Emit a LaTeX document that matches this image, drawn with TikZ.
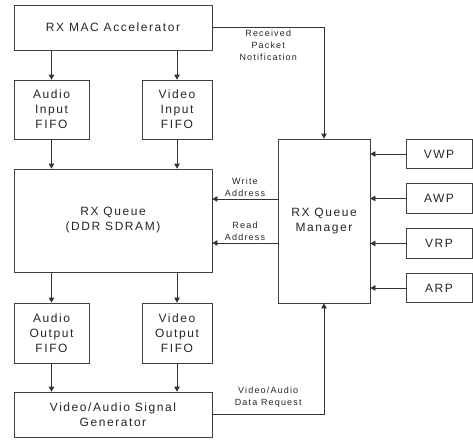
\documentclass[tikz,border=0pt]{standalone}
\usepackage{fontspec}
\setmainfont[LetterSpace=13]{Liberation Sans}
\usetikzlibrary{arrows.meta}

\begin{document}
\begin{tikzpicture}[x=1pt, y=-1pt,
    block/.style={draw=black!75, line width=0.8pt, fill=white, align=center, inner sep=0pt, font=\fontsize{12}{15}\selectfont, text=black!85},
    fifo/.style={block, minimum height=59pt},
    port/.style={block, minimum width=66pt, minimum height=29.5pt},
    arrow/.style={-{Triangle[length=5pt, width=5.5pt]}, draw=black!80, line width=0.8pt},
    sublabel/.style={font=\fontsize{9}{12}\selectfont, align=center, text=black!85, inner sep=2pt}
]
\useasboundingbox (0,0) rectangle (473,439);
% left column
\node[block, minimum width=198pt, minimum height=45pt] (mac) at (113,27.5) {RX MAC Accelerator};
\node[fifo, minimum width=75pt] (ain) at (51.5,109.5) {Audio\\Input\\FIFO};
\node[fifo, minimum width=70pt] (vin) at (177,109.5) {Video\\Input\\FIFO};
\node[block, minimum width=198pt, minimum height=103pt] (queue) at (113,220.5) {RX Queue\\(DDR SDRAM)};
\node[fifo, minimum width=75pt, minimum height=60pt] (aout) at (51.5,333) {Audio\\Output\\FIFO};
\node[fifo, minimum width=70pt, minimum height=60pt] (vout) at (177,333) {Video\\Output\\FIFO};
\node[block, minimum width=198pt, minimum height=45pt] (gen) at (113,414.5) {Video/Audio Signal\\Generator};
% queue manager and pointers
\node[block, minimum width=92pt, minimum height=164pt] (mgr) at (324,221) {RX Queue\\Manager};
\node[port] (vwp) at (439,154) {VWP};
\node[port] (awp) at (439,198.5) {AWP};
\node[port] (vrp) at (439,243.5) {VRP};
\node[port] (arp) at (439,288) {ARP};
% data path
\draw[arrow] (mac.south -| ain) -- (ain);
\draw[arrow] (mac.south -| vin) -- (vin);
\draw[arrow] (ain) -- (queue.north -| ain);
\draw[arrow] (vin) -- (queue.north -| vin);
\draw[arrow] (queue.south -| aout) -- (aout);
\draw[arrow] (queue.south -| vout) -- (vout);
\draw[arrow] (aout) -- (gen.north -| aout);
\draw[arrow] (vout) -- (gen.north -| vout);
% control path
\coordinate (wr) at (mgr.west |- 0,199);
\coordinate (rd) at (mgr.west |- 0,243);
\draw[arrow] (mac.east) -- node[below, sublabel] {Received\\Packet\\Notification} (mac.east -| mgr.north) -- (mgr.north);
\draw[arrow] (wr) -- node[above, sublabel] {Write\\Address} (wr -| queue.east);
\draw[arrow] (rd) -- node[above, sublabel] {Read\\Address} (rd -| queue.east);
\draw[arrow] (gen.east) -- node[above, sublabel, yshift=5pt] {Video/Audio\\Data Request} (gen.east -| mgr.south) -- (mgr.south);
\foreach \p in {vwp,awp,vrp,arp}
    \draw[arrow] (\p) -- (\p -| mgr.east);
\end{tikzpicture}
\end{document}
